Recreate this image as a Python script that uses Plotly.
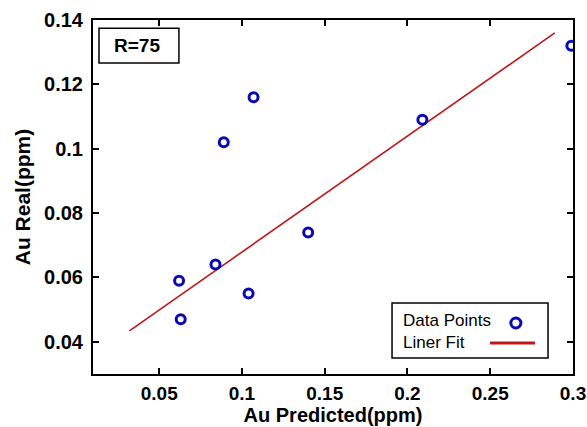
import plotly.graph_objects as go

# Data
au_predicted = [0.062, 0.063, 0.084, 0.104, 0.140, 0.089, 0.107, 0.209, 0.299]
au_real = [0.059, 0.047, 0.064, 0.055, 0.074, 0.102, 0.116, 0.109, 0.132]
fit_x = [0.032, 0.289]
fit_y = [0.0434, 0.136]

x_ticks = [0.05, 0.1, 0.15, 0.2, 0.25, 0.3]
x_ticklabels = ["0.05", "0.1", "0.15", "0.2", "0.25", "0.3"]
y_ticks = [0.04, 0.06, 0.08, 0.1, 0.12, 0.14]
y_ticklabels = ["0.04", "0.06", "0.08", "0.1", "0.12", "0.14"]

blue = "#0a0ab4"
red = "#c01818"
font = "Liberation Sans, Arial, sans-serif"

fig = go.Figure()
fig.add_trace(go.Scatter(x=fit_x, y=fit_y, mode="lines",
                         line=dict(color=red, width=1.6), showlegend=False))
fig.add_trace(go.Scatter(x=au_predicted, y=au_real, mode="markers",
                         marker=dict(symbol="circle-open", size=9, color=blue,
                                     line=dict(width=3, color=blue)),
                         showlegend=False))

axis_common = dict(showline=True, linecolor="black", linewidth=2, mirror="ticks",
                   ticks="inside", ticklen=6, tickwidth=1.5, tickcolor="black",
                   showgrid=False, zeroline=False, automargin=False)

fig.update_xaxes(range=[0.01, 0.3], tickvals=x_ticks, ticktext=x_ticklabels,
                 ticklabelstandoff=1,
                 tickfont=dict(family=font, size=19, color="black", weight="bold"),
                 title=dict(text="Au Predicted(ppm)", standoff=3,
                            font=dict(family=font, size=20, color="black", weight="bold")),
                 **axis_common)
fig.update_yaxes(range=[0.03, 0.14], tickvals=y_ticks, ticktext=y_ticklabels,
                 ticklabelstandoff=4,
                 tickfont=dict(family=font, size=20, color="black", weight="bold"),
                 title=dict(text="Au Real(ppm)", standoff=8,
                            font=dict(family=font, size=21, color="black", weight="bold")),
                 **axis_common)

# R=75 box
fig.add_shape(type="rect", xref="paper", yref="paper", x0=0.0125, x1=0.179, y0=0.8785, y1=0.977,
              line=dict(color="black", width=1.5), fillcolor="white", layer="above")
fig.add_annotation(xref="paper", yref="paper", x=0.0917, y=0.928, xanchor="center", yanchor="middle",
                   text="<b>R=75</b>", showarrow=False,
                   font=dict(family=font, size=19, color="black"))

# Custom legend (symbol on the right, as in reference)
fig.add_shape(type="rect", xref="paper", yref="paper", x0=0.623, x1=0.948, y0=0.045, y1=0.2006,
              line=dict(color="black", width=1.5), fillcolor="white", layer="above")
fig.add_annotation(xref="paper", yref="paper", x=0.642, y=0.1525, xanchor="left", yanchor="middle",
                   text="Data Points", showarrow=False,
                   font=dict(family=font, size=17, color="black"))
fig.add_annotation(xref="paper", yref="paper", x=0.642, y=0.0876, xanchor="left", yanchor="middle",
                   text="Liner Fit", showarrow=False,
                   font=dict(family=font, size=17, color="black"))
fig.add_shape(type="circle", xref="paper", yref="paper", x0=0.8705, x1=0.8915, y0=0.130, y1=0.158,
              line=dict(color=blue, width=3), layer="above")
fig.add_shape(type="line", xref="paper", yref="paper", x0=0.827, x1=0.921, y0=0.0876, y1=0.0876,
              line=dict(color=red, width=3), layer="above")

fig.update_layout(width=587, height=427, margin=dict(l=93, r=14, t=20, b=53),
                  plot_bgcolor="white", paper_bgcolor="white", showlegend=False)

fig.write_html("out.html")
